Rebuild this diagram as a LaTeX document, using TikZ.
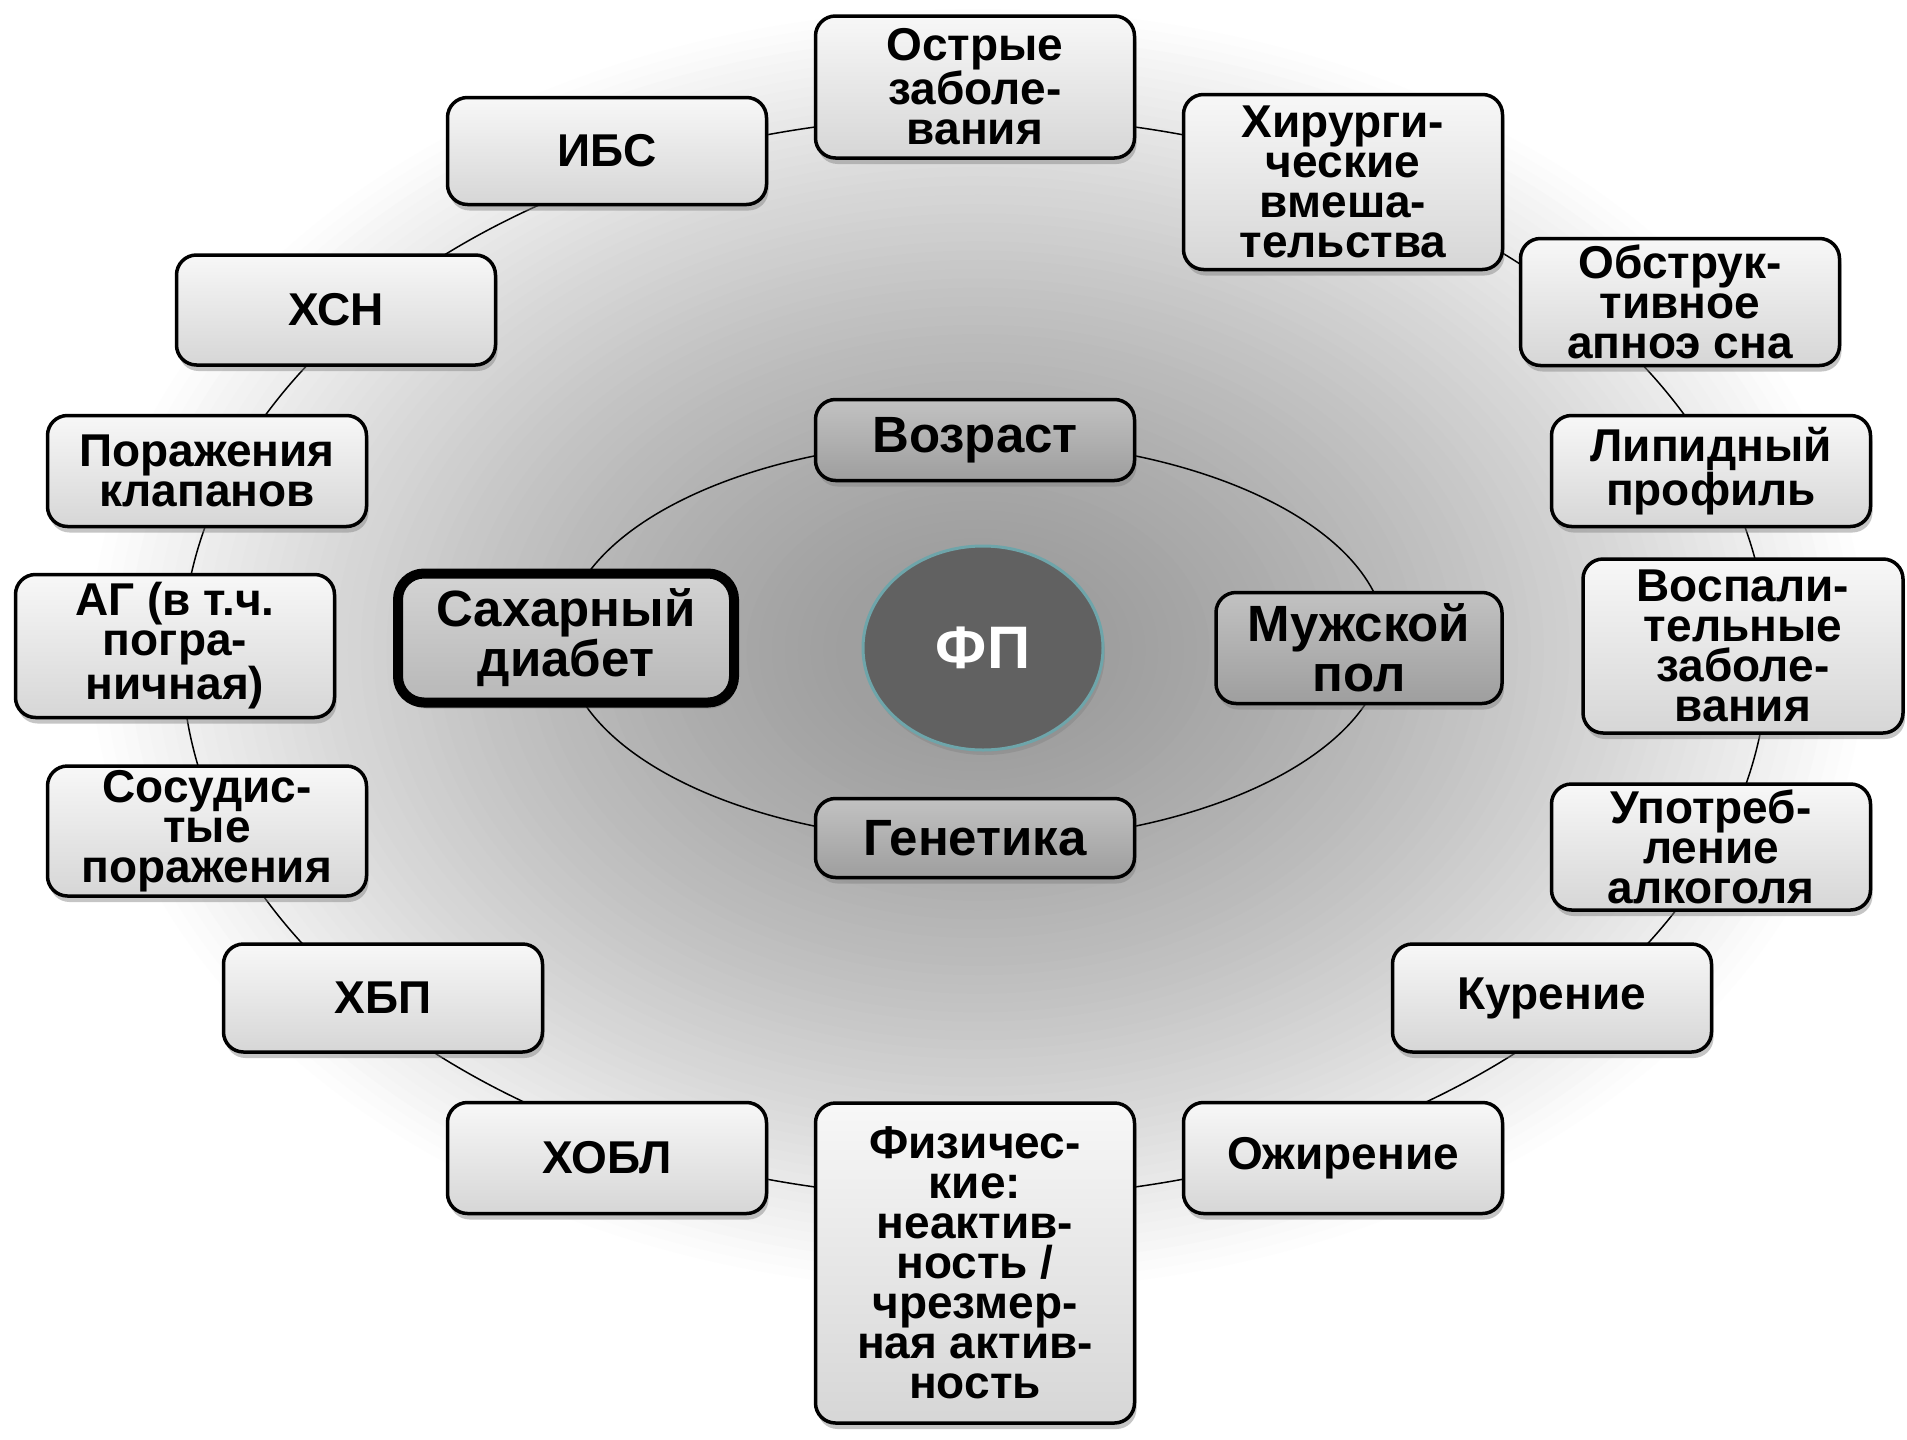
\documentclass[tikz,border=0pt]{standalone}
\usepackage{fontspec}
\setmainfont{Liberation Sans}
\usetikzlibrary{shapes.geometric,shadows}

\definecolor{fprim}{RGB}{110,165,170}

\begin{document}
\begin{tikzpicture}[x=1pt, y=-1pt,
    riskbox/.style={draw=black, line width=3.5pt, rounded corners=20pt, top color=black!3, bottom color=black!16,
        minimum width=319pt, inner sep=0pt, align=center, font=\fontsize{46}{40}\selectfont\bfseries,
        drop shadow={shadow xshift=2pt, shadow yshift=-6pt, opacity=0.45}},
    corebox/.style={riskbox, top color=black!24, bottom color=black!38, font=\fontsize{51}{50}\selectfont\bfseries}]

        \fill[white] (0,0) rectangle (1907,1440);
        \useasboundingbox (0,0) rectangle (1907,1440);

        % background glow, built from nested ellipses
        \coordinate (glow) at (978,650);
        \foreach \k in {0,...,69} {
            \pgfmathsetmacro\rr{1-\k/70}
            \pgfmathsetmacro\rx{900*\rr}
            \pgfmathsetmacro\ry{650*\rr}
            \pgfmathsetmacro\shadeval{40*(1-\rr^1.5)}
            \fill[black!\shadeval] (glow) ellipse [x radius=\rx pt, y radius=\ry pt];
        }

        % the two rings
        \coordinate (ring) at (975,657);
        \coordinate (core) at (975,641);
        \draw[line width=1.5pt] (ring) ellipse [x radius=793pt, y radius=541pt];
        \draw[line width=1.5pt] (core) ellipse [x radius=411pt, y radius=201pt];

        % outer ring
        \node[riskbox, minimum height=142pt] (acute) at (975,87) {Острые\\заболе-\\вания};
        \node[riskbox, minimum height=107pt] (ibs) at (607,151) {ИБС};
        \node[riskbox, minimum height=175pt] (surg) at (1343,182) {Хирурги-\\ческие\\вмеша-\\тельства};
        \node[riskbox, minimum height=110pt] (chf) at (336,310) {ХСН};
        \node[riskbox, minimum height=127pt] (osa) at (1680,302) {Обструк-\\тивное\\апноэ сна};
        \node[riskbox, minimum height=111pt] (valve) at (207,471) {Поражения\\клапанов};
        \node[riskbox, minimum height=111pt] (lipid) at (1711,471) {Липидный\\профиль};
        \node[riskbox, minimum height=143pt] (ag) at (175,646) {АГ (в т.ч.\\погра-\\ничная)};
        \node[riskbox, minimum height=174pt, minimum width=320pt] (inflam) at (1743,646) {Воспали-\\тельные\\заболе-\\вания};
        \node[riskbox, minimum height=130pt] (vasc) at (207,831) {Сосудис-\\тые\\поражения};
        \node[riskbox, minimum height=126pt] (alco) at (1711,847) {Употреб-\\ление\\алкоголя};
        \node[riskbox, minimum height=108pt] (ckd) at (383,998) {ХБП};
        \node[riskbox, minimum height=108pt] (smoke) at (1552,998) {Курение};
        \node[riskbox, minimum height=111pt] (copd) at (607,1158) {ХОБЛ};
        \node[riskbox, minimum height=111pt] (obes) at (1343,1158) {Ожирение};
        \node[riskbox, minimum height=320pt] (phys) at (975,1263)
            {Физичес-\\кие:\\неактив-\\ность /\\чрезмер-\\ная актив-\\ность};

        % inner ring
        \node[corebox, minimum height=81pt] (age) at (975,440) {Возраст};
        \node[corebox, minimum height=79pt] (genes) at (975,838) {Генетика};
        \node[corebox, minimum height=111pt, minimum width=286pt] (male) at (1359,648) {Мужской\\пол};
        \node[corebox, line width=10pt, rounded corners=26pt, minimum width=336pt, minimum height=129pt,
            top color=black!17, bottom color=black!28] (diab) at (566,638) {Сахарный\\диабет};

        \node[ellipse, draw=fprim, line width=3pt, fill=black!62, text=white, inner sep=0pt,
            minimum width=240pt, minimum height=204pt, font=\fontsize{60}{60}\selectfont\bfseries,
            drop shadow={shadow xshift=2pt, shadow yshift=-5pt, opacity=0.4}] (fp) at (983,648) {ФП};
    \end{tikzpicture}
\end{document}
